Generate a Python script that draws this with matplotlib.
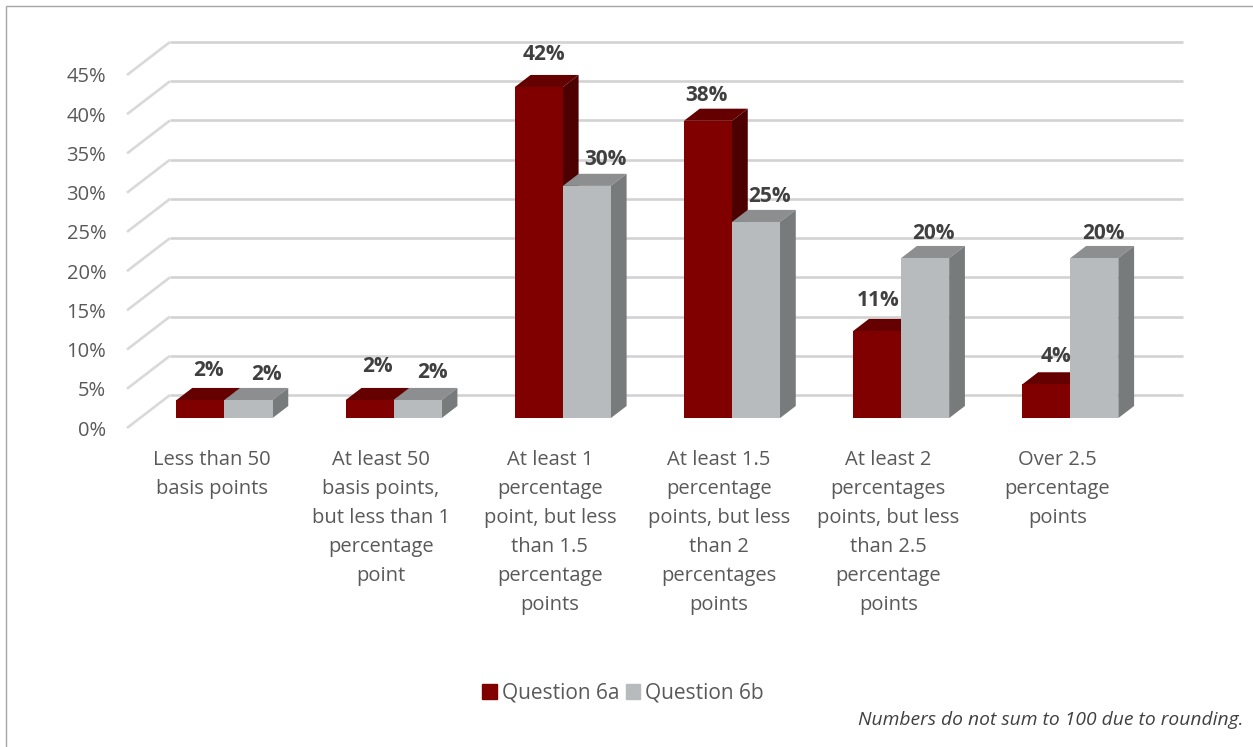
import matplotlib
matplotlib.use("Agg")
import matplotlib.pyplot as plt
from matplotlib.patches import Patch, Rectangle

plt.rcParams['font.family'] = ['Open Sans', 'DejaVu Sans']

categories = ["Less than 50\nbasis points",
              "At least 50\nbasis points,\nbut less than 1\npercentage\npoint",
              "At least 1\npercentage\npoint, but less\nthan 1.5\npercentage\npoints",
              "At least 1.5\npercentage\npoints, but less\nthan 2\npercentages\npoints",
              "At least 2\npercentages\npoints, but less\nthan 2.5\npercentage\npoints",
              "Over 2.5\npercentage\npoints"]
q6a = [2.3, 2.3, 42.2, 37.9, 11.1, 4.3]
q6b = [2.3, 2.3, 29.6, 25.0, 20.4, 20.4]
q6a_labels = ["2%", "2%", "42%", "38%", "11%", "4%"]
q6b_labels = ["2%", "2%", "30%", "25%", "20%", "20%"]
yticks = [0, 5, 10, 15, 20, 25, 30, 35, 40, 45]

W, H = 1253, 747
fig = plt.figure(figsize=(W / 100, H / 100), dpi=100, facecolor="white")
L, R, B, T = 127, 1142, 428, 75
ax = fig.add_axes([L / W, 1 - B / H, (R - L) / W, (B - T) / H])
ax.set_xlim(0, 6)
ax.set_ylim(0, 45)
ax.patch.set_alpha(0)
for s in ax.spines.values():
    s.set_visible(False)

# depth of the 3-D box, in data units
UX = (R - L) / 6
DX = 43 / UX
DY = 33 / ((B - T) / 45)
D1, D2 = 0.30, 0.667
BW = 48 / UX

for v in yticks:
    ax.plot([0, DX], [v, v + DY], color="#D9D9D9", lw=1.9, clip_on=False, zorder=1, solid_capstyle="butt")
    ax.plot([DX, 6 + DX - 2 / UX], [v + DY, v + DY], color="#D2D2D2", lw=1.9, clip_on=False, zorder=1, solid_capstyle="butt")

def box(xc, v, front, top, side, z):
    x0 = xc + D1 * DX
    x1 = x0 + BW
    y0 = D1 * DY
    y1 = y0 + v
    ddx = (D2 - D1) * DX
    ddy = (D2 - D1) * DY
    ax.bar(x0, v, BW, bottom=y0, align="edge", color=front, edgecolor="none", clip_on=False, zorder=z + .2)
    ax.fill([x0, x1, x1 + ddx, x0 + ddx], [y1, y1, y1 + ddy, y1 + ddy], color=top, lw=0, clip_on=False, zorder=z)
    ax.fill([x1, x1 + ddx, x1 + ddx, x1], [y0, y0 + ddy, y1 + ddy, y1], color=side, lw=0, clip_on=False, zorder=z)

for i, (a, b) in enumerate(zip(q6a, q6b)):
    c = i + 0.5
    box(c - BW, a, "#800000", "#640000", "#4D0000", 3)
    box(c, b, "#B7BBBE", "#8C8E90", "#777B7B", 4)

# label offsets from the front-top centre of each bar, in pixels
off_a = [(8, 30), (8, 34), (5, 33), (-2, 25), (1, 31), (10, 28)]
off_b = [(18, 26), (15, 28), (19, 26), (14, 25), (8, 25), (9, 25)]

def label(xc, v, txt, off):
    ax.annotate(txt, (xc + BW / 2 + D1 * DX, v + D1 * DY), xytext=(off[0] * .72, off[1] * .72),
                textcoords="offset points", ha="center", va="center", fontsize=15,
                fontweight="bold", color="#404040", annotation_clip=False, zorder=10)

for i in range(6):
    label(i + .5 - BW, q6a[i], q6a_labels[i], off_a[i])
    label(i + .5, q6b[i], q6b_labels[i], off_b[i])

ax.set_yticks(yticks, [f"{v}%" for v in yticks])
ax.set_xticks([i + .5 for i in range(6)], categories)
ax.tick_params(axis="both", length=0, colors="#595959", labelsize=14.5)
ax.tick_params(axis="x", pad=16)
ax.tick_params(axis="y", pad=15)
for t in ax.get_xticklabels():
    t.set_linespacing(1.6)

handles = [Patch(color="#800000", label="Question 6a"), Patch(color="#B7BBBE", label="Question 6b")]
fig.legend(handles=handles, loc="center", bbox_to_anchor=(623 / W, 1 - 693 / H), ncol=2, frameon=False,
           fontsize=15, labelcolor="#595959", handlelength=.7, handleheight=.7, handletextpad=.25,
           columnspacing=.3, borderpad=0)
fig.text(1244 / W, 1 - 720 / H, "Numbers do not sum to 100 due to rounding.", ha="right", va="center",
         style="italic", fontsize=13.9, color="#404040")
fig.add_artist(Rectangle((6 / W, -0.1), 1.1, 1.1 - 6 / H, transform=fig.transFigure, fill=False,
                         edgecolor="#A6A6A6", lw=1))
fig.savefig("out.png", dpi=100)
